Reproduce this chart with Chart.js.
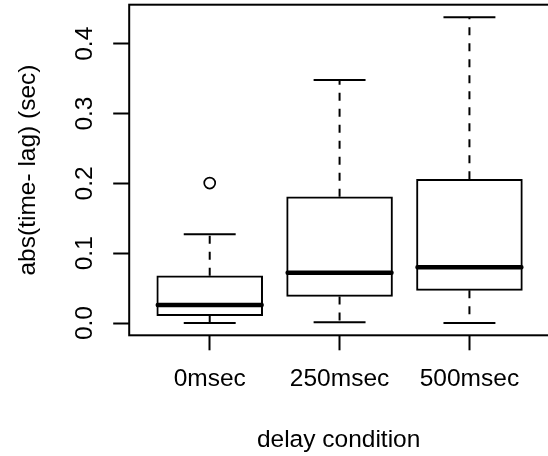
<!DOCTYPE html>
<html>
<head>
<meta charset="utf-8">
<script src="https://cdn.jsdelivr.net/npm/chart.js@4.4.1/dist/chart.umd.min.js"></script>
<style>
  html, body { margin: 0; padding: 0; background: #fff; overflow: hidden; }
  canvas { display: block; }
</style>
</head>
<body>
<canvas id="boxChart" width="548" height="456"></canvas>
<script>
// box plot stats per delay condition
const categories  = ["0msec", "250msec", "500msec"];
const whiskerLow  = [0.000, 0.001, 0.000];
const q1          = [0.0105, 0.0382, 0.0468];
const medians     = [0.0258, 0.0720, 0.0798];
const q3          = [0.0677, 0.1809, 0.2058];
const whiskerHigh = [0.127, 0.348, 0.438];
const outliers    = [[0.2005], [], []];

const yTicks = [0, 0.1, 0.2, 0.3, 0.4];
const xTitle = "delay condition";
const yTitle = "abs(time- lag) (sec)";

// layout, like R's default boxplot
const plotLeft = 129.2, plotTop = 4.7, plotBottom = 335.3, W = 548, H = 456;
const xMin = 0.38, xMax = 3.605;
const yMin = -0.01754, yMax = 0.4559;
const boxWidth = 0.8, capWidth = 0.4;
const pxPerUnit = (W - plotLeft) / (xMax - xMin);

const font = { family: "'Liberation Sans', Arial, Helvetica, sans-serif", size: 24.5 };

const boxData = categories.map((c, i) => ({ x: i + 1, y: [q1[i], q3[i]] }));
const medianData = [], whiskerData = [], capData = [], outlierData = [];
categories.forEach((c, i) => {
    const x = i + 1;
    medianData.push({ x: x - boxWidth / 2, y: medians[i] }, { x: x + boxWidth / 2, y: medians[i] }, { x: x, y: null });
    whiskerData.push({ x: x, y: q3[i] }, { x: x, y: whiskerHigh[i] }, { x: x, y: null });
    whiskerData.push({ x: x, y: q1[i] }, { x: x, y: whiskerLow[i] }, { x: x, y: null });
    capData.push({ x: x - capWidth / 2, y: whiskerHigh[i] }, { x: x + capWidth / 2, y: whiskerHigh[i] }, { x: x, y: null });
    capData.push({ x: x - capWidth / 2, y: whiskerLow[i] }, { x: x + capWidth / 2, y: whiskerLow[i] }, { x: x, y: null });
    outliers[i].forEach(v => outlierData.push({ x: x, y: v }));
});

// R's box() round the plot region
const framePlugin = {
    id: "frame",
    afterDatasetsDraw(chart) {
        const { ctx, chartArea: a } = chart;
        ctx.save();
        ctx.strokeStyle = "#000";
        ctx.lineWidth = 2;
        ctx.strokeRect(a.left, a.top, a.right - a.left + 10, a.bottom - a.top);
        ctx.restore();
    }
};

const lineBase = { type: "line", pointRadius: 0, borderColor: "#000", fill: false, tension: 0, spanGaps: false };

new Chart(document.getElementById("boxChart"), {
    type: "bar",
    data: {
        datasets: [
            { ...lineBase, data: medianData, borderWidth: 4.5, borderCapStyle: "round", order: 1 },
            { type: "scatter", data: outlierData, pointRadius: 5.5, pointBorderWidth: 1.7,
              pointBorderColor: "#000", pointBackgroundColor: "rgba(0,0,0,0)", order: 2 },
            { ...lineBase, data: capData, borderWidth: 2, order: 3 },
            { ...lineBase, data: whiskerData, borderWidth: 2, borderDash: [8, 8], order: 4 },
            { data: boxData, backgroundColor: "#fff", borderColor: "#000", borderWidth: 2,
              borderSkipped: false, barThickness: boxWidth * pxPerUnit + 2, grouped: false, order: 5 }
        ]
    },
    options: {
        responsive: false,
        devicePixelRatio: 1,
        animation: false,
        layout: { autoPadding: false, padding: { top: plotTop, right: 0, bottom: 0, left: 0 } },
        plugins: { legend: { display: false }, tooltip: { enabled: false } },
        scales: {
            x: {
                type: "linear",
                min: xMin,
                max: xMax,
                offset: false,
                border: { display: false },
                grid: { display: true, offset: false, drawOnChartArea: false, drawTicks: true,
                        tickLength: 15, tickColor: "#000", tickWidth: 2 },
                afterBuildTicks: s => { s.ticks = categories.map((c, i) => ({ value: i + 1 })); },
                ticks: { callback: v => categories[v - 1], color: "#000", font: font,
                         padding: 14, maxRotation: 0, autoSkip: false },
                title: { display: true, text: xTitle, color: "#000", font: font, padding: { top: 0, bottom: 1 } },
                afterFit: s => { s.height = H - plotBottom; s.paddingLeft = 0; s.paddingRight = 0; }
            },
            y: {
                type: "linear",
                min: yMin,
                max: yMax,
                border: { display: false },
                grid: { display: true, drawOnChartArea: false, drawTicks: true,
                        tickLength: 16, tickColor: "#000", tickWidth: 2 },
                afterBuildTicks: s => { s.ticks = yTicks.map(v => ({ value: v })); },
                ticks: { callback: v => v.toFixed(1), color: "#000", font: font,
                         minRotation: 90, maxRotation: 90, crossAlign: "center", padding: 11 },
                title: { display: true, text: yTitle, color: "#000", font: font, padding: { top: 14, bottom: 0 } },
                afterFit: s => { s.width = plotLeft; s.paddingTop = 0; s.paddingBottom = 0; }
            }
        }
    },
    plugins: [framePlugin]
});
</script>
</body>
</html>
